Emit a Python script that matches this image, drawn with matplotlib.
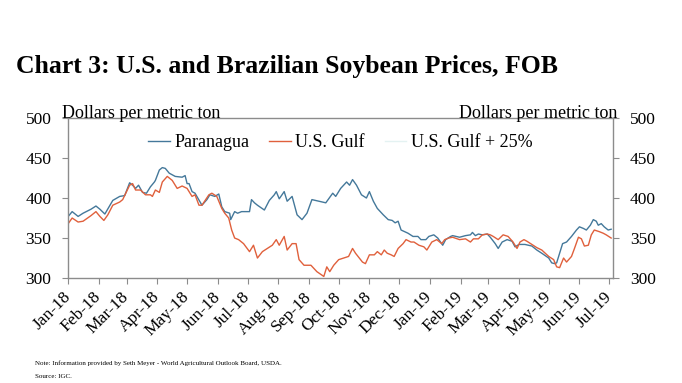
import numpy as np
import matplotlib
matplotlib.use("Agg")
import matplotlib.pyplot as plt

plt.rcParams["font.family"] = ["Liberation Serif", "DejaVu Serif"]

TITLE = "Chart 3: U.S. and Brazilian Soybean Prices, FOB"
UNIT = "Dollars per metric ton"
NOTE = "Note: Information provided by Seth Meyer - World Agricultural Outlook Board, USDA."
SOURCE = "Source: IGC."

# days since 2018-01-01, values in $/t
para_days = [0, 4, 10, 15, 23, 28, 32, 37, 45, 52, 57, 62, 65, 68, 71, 75, 79, 83, 87, 88,
             92, 95, 98, 102, 108, 115, 118, 120, 122, 125, 128, 135, 140, 143, 148, 152, 155,
             158, 163, 164, 168, 171, 175, 183, 185, 188, 191, 198, 203, 208, 210, 213, 218,
             221, 226, 231, 236, 241, 246, 253, 260, 267, 270, 275, 281, 284, 287, 291, 296,
             301, 304, 308, 312, 318, 323, 327, 330, 333, 336, 343, 348, 353, 356, 361, 364,
             369, 373, 378, 381, 386, 388, 395, 401, 406, 408, 411, 414, 418, 423, 426, 431,
             434, 438, 443, 448, 451, 455, 461, 468, 473, 478, 485, 488, 491, 493, 496, 499,
             503, 508, 513, 516, 520, 523, 527, 530, 533, 535, 538, 541, 545, 548]
para_vals = [377, 383, 377, 381, 386, 390, 386, 380, 397, 402, 403, 419, 416, 412, 416, 407,
             406, 414, 420, 422, 435, 438, 437, 431, 427, 426, 428, 418, 418, 408, 406, 391,
             398, 404, 402, 405, 389, 383, 381, 373, 383, 381, 383, 383, 398, 394, 391, 385,
             397, 404, 408, 399, 408, 396, 402, 379, 373, 381, 398, 396, 394, 406, 402, 412,
             420, 416, 423, 416, 404, 400, 408, 396, 387, 379, 373, 372, 369, 371, 360, 356,
             352, 352, 348, 348, 352, 354, 350, 341, 348, 352, 353, 351, 353, 354, 357, 353,
             355, 354, 355, 351, 343, 337, 345, 348, 346, 339, 342, 342, 340, 335, 331, 325,
             319, 318, 319, 331, 343, 345, 352, 360, 364, 362, 360, 366, 373, 371, 366, 368,
             364, 360, 361]

gulf_days = [0, 4, 10, 15, 23, 28, 32, 36, 40, 45, 52, 55, 62, 65, 68, 73, 78, 83, 85, 88,
             92, 95, 100, 105, 110, 115, 120, 125, 128, 132, 135, 142, 145, 150, 155, 158,
             162, 165, 168, 172, 177, 183, 187, 191, 196, 201, 206, 210, 213, 218, 221, 226,
             230, 233, 238, 245, 251, 258, 261, 264, 268, 273, 278, 283, 287, 290, 297, 300,
             304, 309, 312, 316, 319, 322, 326, 329, 333, 338, 341, 346, 349, 354, 359, 362,
             367, 372, 377, 380, 384, 388, 395, 401, 406, 409, 414, 418, 423, 426, 429, 434,
             439, 444, 449, 453, 456, 460, 463, 468, 473, 478, 485, 490, 493, 496, 500, 503,
             508, 511, 515, 518, 521, 525, 528, 531, 536, 540, 543, 548]
gulf_vals = [368, 375, 370, 371, 378, 383, 377, 372, 379, 391, 395, 398, 416, 418, 410, 410,
             404, 404, 402, 410, 407, 420, 427, 422, 412, 415, 412, 402, 404, 391, 391, 404,
             406, 402, 387, 381, 375, 360, 350, 348, 343, 333, 341, 325, 333, 337, 341, 348,
             341, 352, 335, 343, 343, 323, 316, 316, 308, 302, 314, 308, 316, 323, 325, 327,
             337, 331, 320, 318, 329, 329, 333, 329, 335, 331, 329, 327, 337, 343, 348, 345,
             345, 341, 339, 335, 345, 348, 343, 348, 350, 351, 348, 349, 345, 349, 349, 354,
             355, 354, 352, 348, 354, 352, 345, 337, 345, 348, 346, 342, 338, 335, 327, 323,
             314, 313, 325, 320, 327, 337, 351, 349, 340, 341, 354, 360, 358, 356, 354, 350]

month_labels = ["Jan-18", "Feb-18", "Mar-18", "Apr-18", "May-18", "Jun-18", "Jul-18",
                "Aug-18", "Sep-18", "Oct-18", "Nov-18", "Dec-18", "Jan-19", "Feb-19",
                "Mar-19", "Apr-19", "May-19", "Jun-19", "Jul-19"]
y_ticks = [300, 350, 400, 450, 500]

start = np.datetime64("2018-01-01")
para_x = start + np.array(para_days, dtype="timedelta64[D]")
gulf_x = start + np.array(gulf_days, dtype="timedelta64[D]")
month_x = np.arange(np.datetime64("2018-01"), np.datetime64("2019-08"),
                    dtype="datetime64[M]").astype("datetime64[D]")

fig = plt.figure(figsize=(6.82, 3.83), dpi=100)
ax = fig.add_axes([0.1, 0.274, 0.799, 0.418])

ax.plot(para_x, para_vals, color="#44789a", lw=1.0, label="Paranagua")
ax.plot(gulf_x, gulf_vals, color="#e0603c", lw=1.0, label="U.S. Gulf")
ax.plot([], [], color="#e4f2f2", lw=1.0, label="U.S. Gulf + 25%")

ax.set_xlim(start, np.datetime64("2019-07-05"))
ax.set_ylim(300, 500)
ax.set_yticks(y_ticks)
ax.set_xticks(month_x)
ax.set_xticklabels(month_labels, rotation=45, ha="right", va="center", rotation_mode="anchor")
ax.tick_params(axis="x", direction="out", length=4, color="#8c8c8c", labelsize=12.5, pad=8)
ax.tick_params(axis="y", direction="out", length=4, color="#8c8c8c", labelsize=12.5, pad=8,
               left=True, right=True, labelleft=True, labelright=True)
for s in ax.spines.values():
    s.set_color("#8c8c8c")
    s.set_linewidth(1.0)

ax.legend(loc="upper left", bbox_to_anchor=(0.117, 1.0), ncol=3, frameon=False,
          fontsize=13, handlelength=1.2, handletextpad=0.25, columnspacing=1.1)

fig.text(0.024, 0.81, TITLE, fontsize=18.5, fontweight="bold")
fig.text(0.091, 0.692, UNIT, fontsize=13)
fig.text(0.905, 0.692, UNIT, fontsize=13, ha="right")
fig.text(0.052, 0.047, NOTE, fontsize=5.0)
fig.text(0.052, 0.012, SOURCE, fontsize=5.0)

fig.savefig("out.png", dpi=100)
